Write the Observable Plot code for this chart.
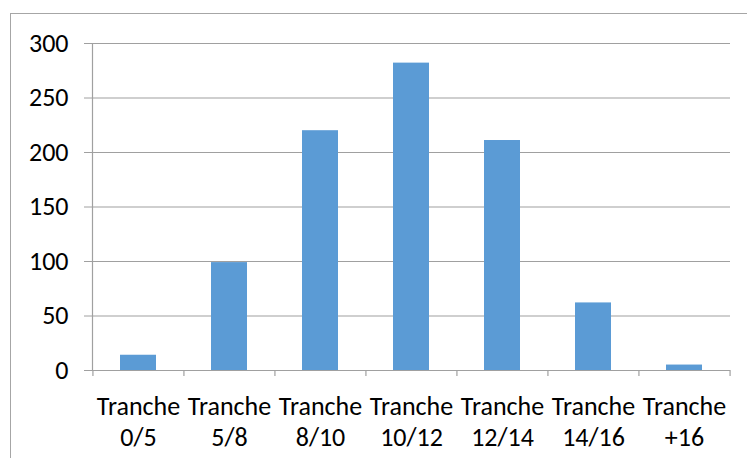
<!DOCTYPE html>
<html>
<head>
<meta charset="utf-8">
<script src="https://cdn.jsdelivr.net/npm/d3@7"></script>
<script src="https://cdn.jsdelivr.net/npm/@observablehq/plot@0.6"></script>
<style>
  html, body { margin: 0; padding: 0; background: #fff; }
  #wrap { position: relative; width: 747px; height: 458px; overflow: hidden; }
  #border { position: absolute; left: 10px; top: 13px; width: 760px; height: 470px; border: 1px solid #a6a6a6; box-sizing: border-box; pointer-events: none; }
  svg { position: absolute; left: 0; top: 0; }
</style>
</head>
<body>
<div id="wrap"><div id="border"></div></div>
<script>
const categories = ["Tranche 0/5", "Tranche 5/8", "Tranche 8/10", "Tranche 10/12", "Tranche 12/14", "Tranche 14/16", "Tranche +16"];
const values = [14, 99, 220, 282, 211, 62, 5];
const yTicks = [0, 50, 100, 150, 200, 250, 300];

const data = categories.map((c, i) => ({category: c, value: values[i]}));
const lastCat = categories[categories.length - 1];

const W = 747, H = 458, mL = 92, mR = 17, mT = 43, mB = 88;
const bw = (W - mL - mR) / categories.length;
const font = "Carlito, Calibri, Lato, sans-serif";

const chart = Plot.plot({
  width: W,
  height: H,
  marginLeft: mL,
  marginRight: mR,
  marginTop: mT,
  marginBottom: mB,
  style: {fontFamily: font, fontSize: "26px", color: "#000", background: "transparent"},
  x: {type: "band", domain: categories, paddingInner: 0.6, paddingOuter: 0.3, align: 0.5},
  y: {domain: [0, 300]},
  marks: [
    Plot.gridY(yTicks, {stroke: "#a0a0a0", strokeOpacity: 1, strokeWidth: 1.2}),
    Plot.axisY(yTicks, {tickSize: 8, tickPadding: 16, stroke: "#a0a0a0", fill: "#000", fontSize: 26, label: null}),
    Plot.frame({anchor: "left", stroke: "#a0a0a0", strokeWidth: 1.2}),
    Plot.ruleX(categories, {x: d => d, y1: 0, y2: -5.5, dx: -bw / 2, stroke: "#a0a0a0", strokeWidth: 1.2}),
    Plot.ruleX([lastCat], {x: d => d, y1: 0, y2: -5.5, dx: bw / 2, stroke: "#a0a0a0", strokeWidth: 1.2}),
    Plot.barY(data, {x: "category", y: "value", fill: "#5b9bd5"}),
    Plot.axisX({tickSize: 0, tickPadding: 22, fontSize: 26, lineHeight: 1.2, fill: "#000", label: null,
      tickFormat: d => d.replace(" ", "\n")})
  ]
});
document.getElementById("wrap").prepend(chart);
</script>
</body>
</html>
